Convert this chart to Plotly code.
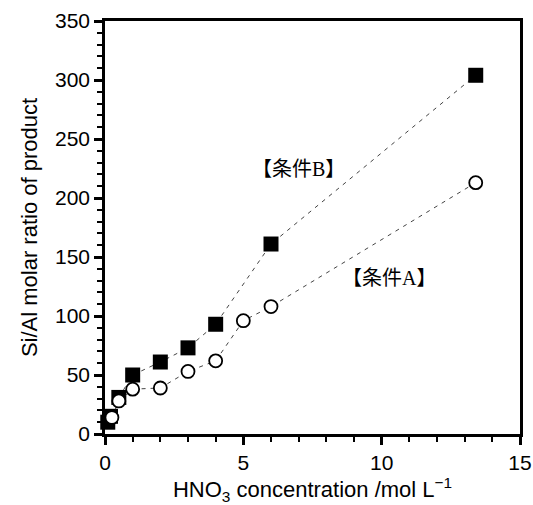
import plotly.graph_objects as go

# Data
x_b = [0.1, 0.2, 0.5, 1, 2, 3, 4, 6, 13.4]
y_b = [10, 15, 31, 50, 61, 73, 93, 161, 304]
x_a = [0.25, 0.5, 1, 2, 3, 4, 5, 6, 13.4]
y_a = [14, 28, 38, 39, 53, 62, 96, 108, 213]

x_ticks = [0, 5, 10, 15]
y_ticks = [0, 50, 100, 150, 200, 250, 300, 350]

label_b = "【条件B】"
label_a = "【条件A】"

fig = go.Figure()
fig.add_trace(go.Scatter(
    x=x_b, y=y_b, mode="lines+markers",
    line=dict(color="#444", width=1, dash="4px,5px"),
    marker=dict(symbol="square", size=15, color="black"),
    cliponaxis=False, showlegend=False))
fig.add_trace(go.Scatter(
    x=x_a, y=y_a, mode="lines+markers",
    line=dict(color="#444", width=1, dash="4px,5px"),
    marker=dict(symbol="circle", size=13, color="white",
                line=dict(color="black", width=1.8)),
    cliponaxis=False, showlegend=False))

fig.add_annotation(x=7.0, y=225, text=label_b, showarrow=False,
                   font=dict(family="Liberation Serif, Noto Sans CJK JP", size=20, color="black"))
fig.add_annotation(x=10.28, y=132, text=label_a, showarrow=False,
                   font=dict(family="Liberation Serif, Noto Sans CJK JP", size=20, color="black"))

axis_common = dict(showline=True, linecolor="black", linewidth=2.5, mirror=True,
                   ticks="outside", ticklen=8, tickwidth=2.5, tickcolor="black",
                   showgrid=False, zeroline=False, automargin=False,
                   tickfont=dict(family="Liberation Sans", size=21, color="black"))

fig.update_xaxes(range=[0, 15], tickvals=x_ticks,
                 minor=dict(dtick=1, ticks="outside", ticklen=5, tickwidth=2, tickcolor="black"),
                 title=dict(text="HNO<sub>3</sub> concentration /mol L<sup>−1</sup>",
                            font=dict(family="Liberation Sans", size=22, color="black"),
                            standoff=22),
                 **axis_common)
fig.update_yaxes(range=[0, 350], tickvals=y_ticks,
                 minor=dict(dtick=10, ticks="outside", ticklen=5, tickwidth=2, tickcolor="black"),
                 title=dict(text="Si/Al molar ratio of product",
                            font=dict(family="Liberation Sans", size=22, color="black"),
                            standoff=12),
                 **axis_common)

fig.update_layout(width=533, height=505, margin=dict(l=105, r=13, t=21, b=71),
                  plot_bgcolor="white", paper_bgcolor="white")

# remove the default 8px page margin so the figure fills the window exactly
fig.write_html("out.html", config={"displayModeBar": False},
               post_script="document.body.style.margin='0';document.body.style.overflow='hidden';")
